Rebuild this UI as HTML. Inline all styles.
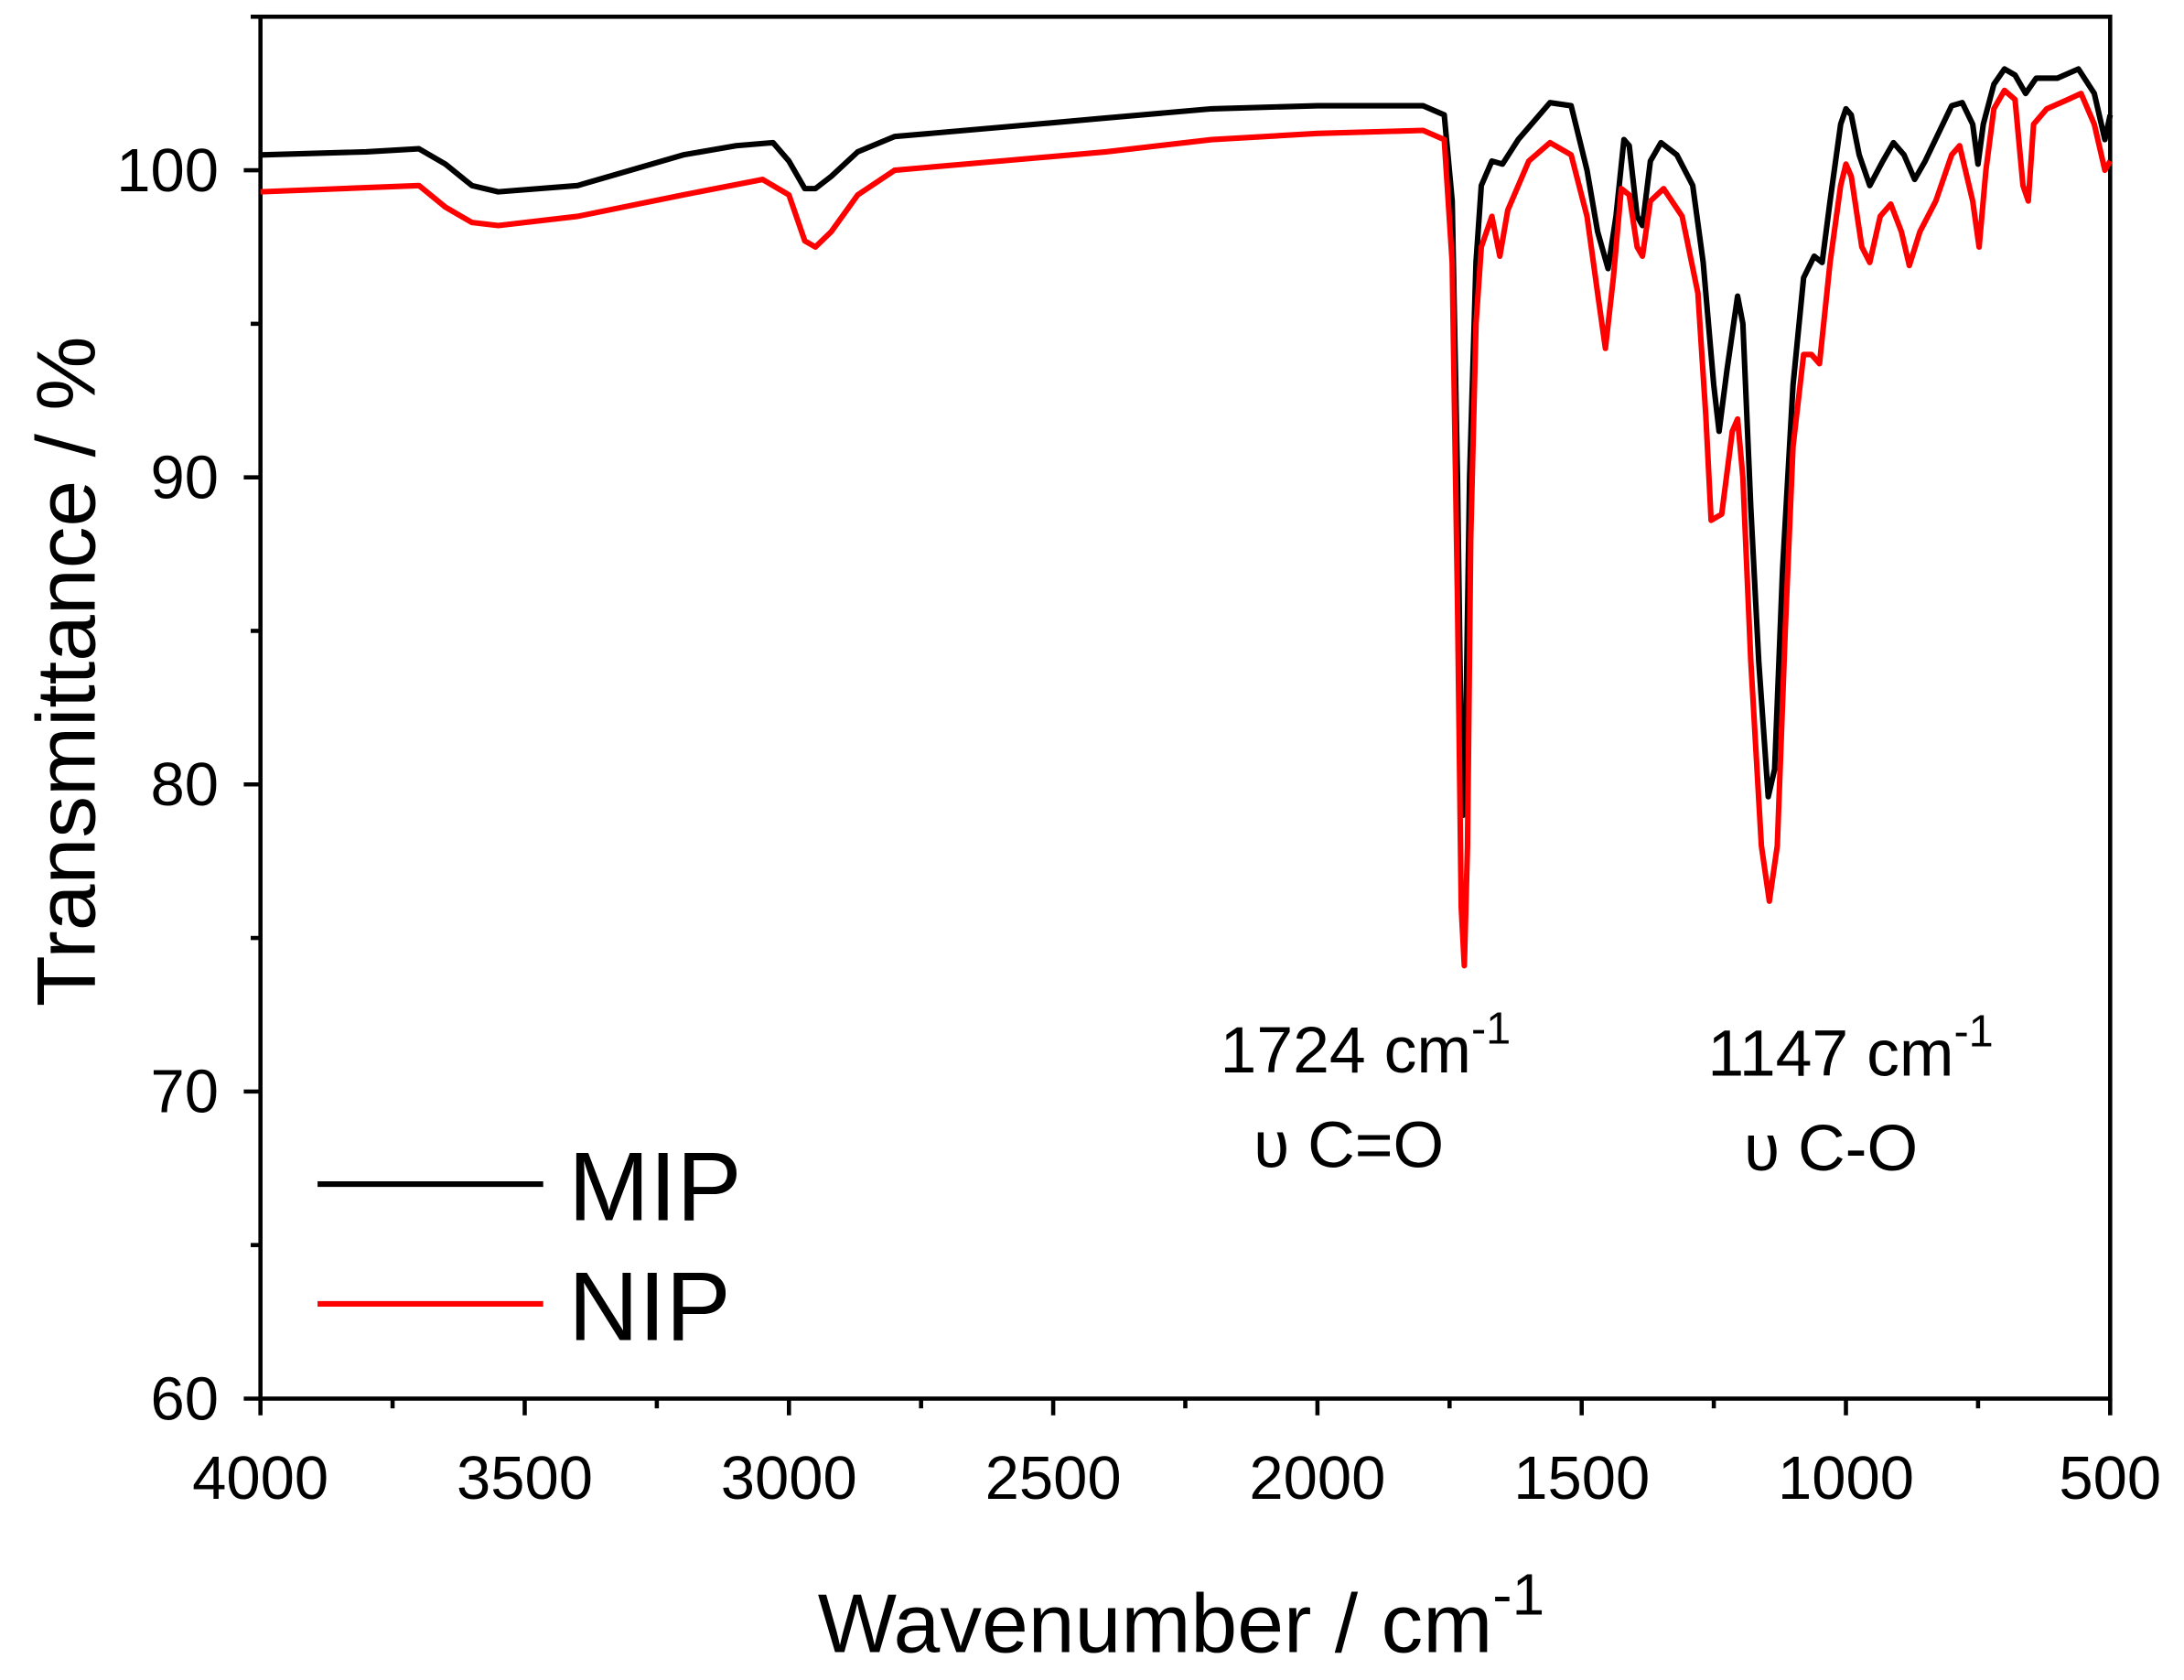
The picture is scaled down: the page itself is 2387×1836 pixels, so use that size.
<!DOCTYPE html>
<html><head><meta charset="utf-8"><style>
html,body{margin:0;padding:0;background:#fff}
svg{display:block}
text{font-family:"Liberation Sans",Arial,sans-serif;fill:#000}
</style></head><body>
<svg id="chart" width="2387" height="1836" viewBox="0 0 1568 1206" preserveAspectRatio="none" xmlns="http://www.w3.org/2000/svg">
<g id="axes"></g>
<g id="series"></g>
<text x="876" y="770" font-size="47">1724 cm<tspan dy="-21" font-size="32">-1</tspan></text>
<text x="900" y="838" font-size="47">υ C=O</text>
<text x="1226" y="772" font-size="47">1147 cm<tspan dy="-21" font-size="32">-1</tspan></text>
<text x="1252" y="840" font-size="47">υ C-O</text>
<g>
<line x1="228" y1="850" x2="390" y2="850" stroke="#000" stroke-width="4"/>
<text x="408" y="876" font-size="70">MIP</text>
<line x1="228" y1="936" x2="390" y2="936" stroke="#f00" stroke-width="4"/>
<text x="408" y="962" font-size="70">NIP</text>
</g>
<text x="848" y="1186" font-size="60" text-anchor="middle">Wavenumber / cm<tspan dy="-27" font-size="42">-1</tspan></text>
<text x="0" y="0" font-size="60" text-anchor="middle" transform="translate(68,482) rotate(-90)">Transmittance / %</text>
</svg>
<script>
const xTicks=[4000,3500,3000,2500,2000,1500,1000,500];
const xMinor=[3750,3250,2750,2250,1750,1250,750];
const yTicks=[60,70,80,90,100];
const yMinor=[65,75,85,95,105];
const mipX=[4000,3800,3700,3650,3600,3550,3400,3300,3200,3100,3030,3000,2970,2950,2920,2870,2800,2600,2400,2200,2000,1800,1760,1745,1735,1728,1724,1720,1712,1700,1690,1670,1650,1620,1560,1520,1490,1470,1450,1435,1420,1410,1395,1385,1370,1350,1320,1290,1270,1250,1240,1225,1205,1195,1180,1165,1147,1135,1120,1100,1080,1060,1045,1030,1010,1000,990,975,955,930,910,890,870,850,800,780,760,750,740,720,700,680,660,640,600,560,530,510,500];
const mipY=[100.5,100.6,100.7,100.2,99.5,99.3,99.5,100,100.5,100.8,100.9,100.3,99.4,99.4,99.8,100.6,101.1,101.4,101.7,102,102.1,102.1,101.8,99,90,81,79,81,90,97,99.5,100.3,100.2,101,102.2,102.1,100,98,96.8,98.5,101,100.8,98.5,98.2,100.3,100.9,100.5,99.5,97,93,91.5,93.5,95.9,95,89,84,79.6,80.5,87,93,96.5,97.2,97,99,101.5,102,101.8,100.5,99.5,100.3,100.9,100.5,99.7,100.3,102.1,102.2,101.5,100.2,101.5,102.8,103.3,103.1,102.5,103,103,103.3,102.5,101,101.8];
const nipX=[4000,3700,3650,3600,3550,3400,3200,3050,3000,2970,2950,2920,2870,2800,2600,2400,2200,2000,1800,1760,1745,1735,1728,1722,1716,1710,1700,1690,1670,1655,1640,1600,1560,1520,1490,1470,1455,1440,1425,1410,1395,1385,1370,1345,1310,1280,1265,1255,1235,1215,1205,1195,1180,1160,1145,1130,1115,1100,1080,1065,1050,1030,1010,1000,990,970,955,935,915,895,880,860,830,800,785,760,748,735,720,700,680,665,655,645,620,580,555,530,510,500];
const nipY=[99.3,99.5,98.8,98.3,98.2,98.5,99.2,99.7,99.2,97.7,97.5,98,99.2,100,100.3,100.6,101,101.2,101.3,101,97,86,76,74.1,78,88,95,97.5,98.5,97.2,98.7,100.3,100.9,100.5,98.5,96,94.2,96.5,99.4,99.2,97.5,97.2,99,99.4,98.5,96,92,88.6,88.8,91.5,91.9,90,84,78,76.2,78,85,91,94,94,93.7,97,99.5,100.2,99.8,97.5,97,98.5,98.9,98,96.9,98,99,100.5,100.8,99,97.5,100,102,102.6,102.3,99.5,99,101.5,102,102.3,102.5,101.5,100,100.3];

const L=187,R=1515,T=12,B=1004;
const sx=v=>L+(4000-v)/3500*(R-L);
const sy=v=>B-(v-60)/45*(B-T);
const NS="http://www.w3.org/2000/svg";
const ax=document.getElementById('axes');
function mk(tag,attrs,parent){const e=document.createElementNS(NS,tag);for(const k in attrs)e.setAttribute(k,attrs[k]);parent.appendChild(e);return e;}
const frame=mk('rect',{x:L,y:T,width:R-L,height:B-T,fill:'none',stroke:'#000','stroke-width':3},ax);


xTicks.forEach(v=>{
 const t=mk('line',{x1:sx(v),x2:sx(v),y1:B,y2:B+12,stroke:'#000','stroke-width':3},ax);
 
 
 const l=mk('text',{x:sx(v),y:B+72,'font-size':44,'text-anchor':'middle'},ax);l.textContent=v;
 
 
});
xMinor.forEach(v=>{
 const t=mk('line',{x1:sx(v),x2:sx(v),y1:B,y2:B+7,stroke:'#000','stroke-width':3},ax);
 
 
});
yTicks.forEach(v=>{
 const t=mk('line',{x1:L-12,x2:L,y1:sy(v),y2:sy(v),stroke:'#000','stroke-width':3},ax);
 
 
 const l=mk('text',{x:L-30,y:sy(v)+15,'font-size':44,'text-anchor':'end'},ax);l.textContent=v;
 
 
});
yMinor.forEach(v=>{
 const t=mk('line',{x1:L-7,x2:L,y1:sy(v),y2:sy(v),stroke:'#000','stroke-width':3},ax);
 
 
});
const sg=document.getElementById('series');
function line(xs,ys,color,name){
 const d=xs.map((x,i)=>(i?'L':'M')+sx(x).toFixed(1)+' '+sy(ys[i]).toFixed(1)).join(' ');
 const p=mk('path',{d:d,fill:'none',stroke:color,'stroke-width':4,'stroke-linejoin':'round'},sg);
 
 
}
line(mipX,mipY,'#000','mip-line');
line(nipX,nipY,'#f00','nip-line');
</script>
</body></html>
